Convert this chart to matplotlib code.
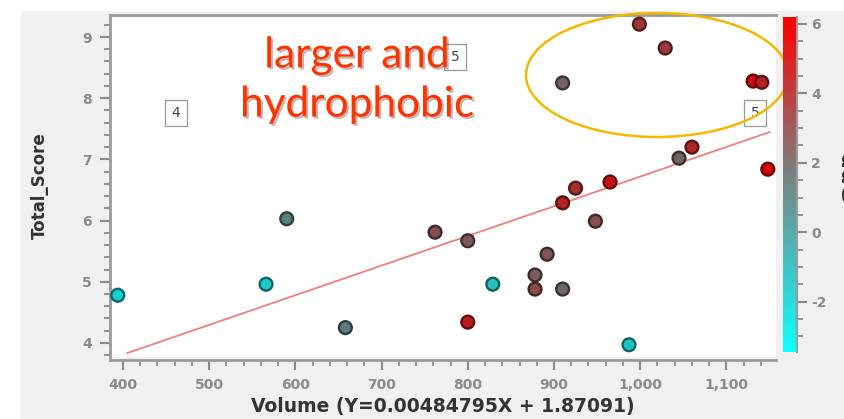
import matplotlib
matplotlib.use("Agg")
import matplotlib.pyplot as plt
import numpy as np
from matplotlib.colors import LinearSegmentedColormap, Normalize
from matplotlib.patches import Ellipse, Rectangle
from matplotlib.ticker import MultipleLocator, FuncFormatter
import matplotlib.patheffects as pe

plt.rcParams["axes.unicode_minus"] = False

# ---- data ----
volume = [394, 566, 590, 658, 762, 800, 800, 829, 878, 878, 910, 892, 948,
          910, 925, 965, 1045, 1060, 1148, 910, 999, 1029, 1131, 1141, 987]
total_score = [4.78, 4.96, 6.03, 4.25, 5.81, 5.67, 4.34, 4.96, 5.11, 4.88, 4.88, 5.45, 5.99,
               6.29, 6.53, 6.63, 7.02, 7.20, 6.84, 8.25, 9.21, 8.82, 8.28, 8.26, 3.97]
color_val = [-3.0, -2.8, 0.8, 1.0, 3.0, 2.6, 5.0, -2.2, 2.5, 3.2, 2.0, 2.8, 3.0,
             4.8, 4.2, 5.5, 2.2, 4.6, 6.0, 2.2, 4.0, 3.8, 5.8, 4.8, -2.5]
slope = 0.00484795
intercept = 1.87091
fit_range = [405, 1150]
x_ticks = [400, 500, 600, 700, 800, 900, 1000, 1100]
y_ticks = [4, 5, 6, 7, 8, 9]
cbar_ticks = [-2, 0, 2, 4, 6]
box_labels = ["4", "5", "5"]

W, H = 845, 419
fig = plt.figure(figsize=(W / 100, H / 100), dpi=100)
fig.patch.set_facecolor("white")
fig.patches.append(Rectangle((21 / W, 0), 1 - 21 / W, 1 - 11 / H, transform=fig.transFigure,
                             facecolor="#f0f0f0", edgecolor="none", zorder=-10))

ax = fig.add_axes([110 / W, 1 - 357 / H, 666 / W, 342 / H])
ax.set_facecolor("white")
ax.set_xlim(385, 1157.5)
ax.set_ylim(3.77, 9.36)

cmap = LinearSegmentedColormap.from_list("cg", [(0, "#10ffff"), (0.55, "#7d7d7d"), (1, "#ff0000")])
norm = Normalize(vmin=-3.45, vmax=6.2)

fc = cmap(norm(np.array(color_val)))
fc[:, :3] = fc[:, :3] * 0.85
ec = fc.copy()
ec[:, :3] = ec[:, :3] * 0.5
ax.scatter(volume, total_score, s=85, c=fc, edgecolors=ec, linewidths=1.7, zorder=3)

xf = np.array(fit_range)
ax.plot(xf, slope * xf + intercept, color="#f07070", lw=1.3, alpha=0.9, zorder=2)

ax.spines["right"].set_visible(False)
for s in ["left", "bottom", "top"]:
    ax.spines[s].set_color("#9a9a9a")
    ax.spines[s].set_linewidth(2)
ax.spines["bottom"].set_position(("outward", 2))

ax.set_xticks(x_ticks)
ax.set_yticks(y_ticks)
ax.xaxis.set_minor_locator(MultipleLocator(20))
ax.yaxis.set_minor_locator(MultipleLocator(0.2))
ax.xaxis.set_major_formatter(FuncFormatter(lambda v, p: f"{int(v):,}"))
ax.tick_params(which="major", length=7, width=1.5, color="#8a8a8a", labelcolor="#8a8a8a",
               labelsize=10, pad=6)
ax.tick_params(which="minor", length=4, width=1.3, color="#8a8a8a")
for lab in ax.get_xticklabels() + ax.get_yticklabels():
    lab.set_fontweight("bold")

ax.set_xlabel("Volume (Y=0.00484795X + 1.87091)", fontsize=13.5, fontweight="bold",
              color="#333333", labelpad=4)
ax.set_ylabel("Total_Score", fontsize=12, fontweight="bold", color="#333333", labelpad=24)

# boxes
box_pos = [(176, 113), (455, 57), (755, 113)]
for lab, (px, py) in zip(box_labels, box_pos):
    ax.text((px - 110) / 666, (357 - py) / 342, lab, transform=ax.transAxes, ha="center",
            va="center", fontsize=10, color="#444444",
            bbox=dict(boxstyle="square,pad=0.45", fc="white", ec="#9a9a9a", lw=0.9),
            zorder=4)

# big red text
fig.text(357 / W, 1 - 80 / H, "larger and\nhydrophobic", ha="center", va="center",
         fontsize=30.5, family="Lato", color="#ff3300", linespacing=1.36,
         path_effects=[pe.SimplePatchShadow(offset=(1.5, -1.5), alpha=0.3), pe.Normal()],
         zorder=10)

# ellipse
ell = Ellipse(((657 - 110) / 666, (357 - 75) / 342), 262 / 666, 124 / 342,
              transform=ax.transAxes, fill=False, ec="#f5b800", lw=1.8, clip_on=False, zorder=5)
ax.add_patch(ell)

# colorbar
cax = fig.add_axes([783 / W, 1 - 352 / H, 14 / W, 335 / H])
grad = np.linspace(-3.45, 6.2, 256).reshape(-1, 1)
cax.imshow(grad, aspect="auto", cmap=cmap, norm=norm, origin="lower",
           extent=[0, 1, -3.45, 6.2])
cax.set_xticks([])
cax.yaxis.tick_right()
cax.set_yticks(cbar_ticks)
cax.yaxis.set_minor_locator(MultipleLocator(0.5))
cax.tick_params(which="major", length=7, width=1.5, color="#8a8a8a", labelcolor="#8a8a8a",
                labelsize=10, pad=3)
cax.tick_params(which="minor", length=4, width=1.3, color="#8a8a8a")
for lab in cax.get_yticklabels():
    lab.set_fontweight("bold")
for s in cax.spines.values():
    s.set_visible(False)
cax.spines["right"].set_visible(True)
cax.spines["right"].set_color("#9a9a9a")
cax.spines["right"].set_linewidth(1.5)

fig.text(846 / W, 1 - 178 / H, "ddG", rotation=270, ha="center", va="center",
         fontsize=16, fontweight="bold", color="#333333")

fig.savefig("out.png", dpi=100)
